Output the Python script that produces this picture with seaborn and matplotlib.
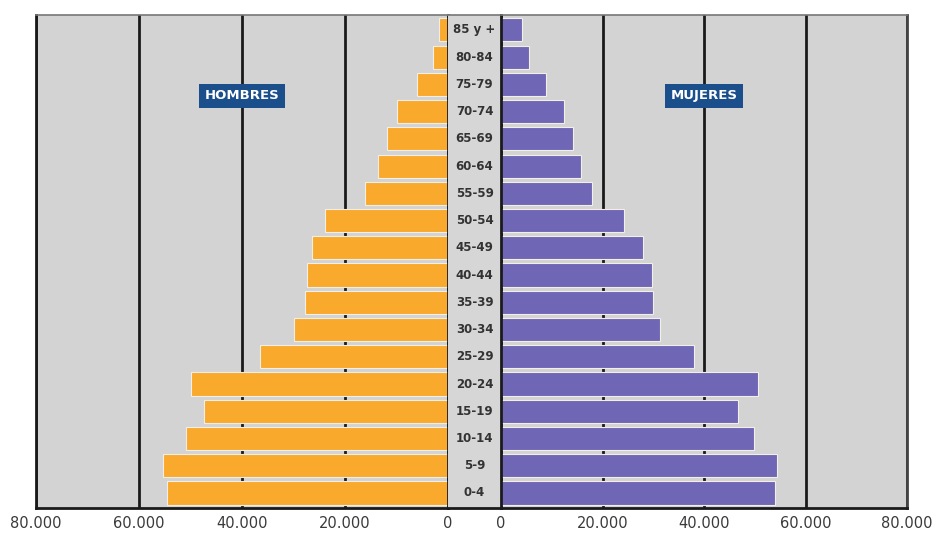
import pandas as pd
import numpy as np
import matplotlib
matplotlib.use("Agg")
import matplotlib.pyplot as plt
import seaborn as sns

# Age groups, top to bottom
age_groups = ["85 y +", "80-84", "75-79", "70-74", "65-69", "60-64", "55-59",
              "50-54", "45-49", "40-44", "35-39", "30-34", "25-29", "20-24",
              "15-19", "10-14", "5-9", "0-4"]

# Population per group
hombres = [1800, 2900, 6000, 9900, 11800, 13600, 16100, 23900, 26400,
           27400, 27700, 29900, 36500, 49900, 47300, 50800, 55300, 54500]
mujeres = [4200, 5500, 8800, 12400, 14100, 15800, 18000, 24300, 27900,
           29800, 30000, 31400, 38000, 50700, 46700, 49900, 54300, 54000]

tick_values = [0, 20000, 40000, 60000, 80000]
tick_labels = ["0", "20.000", "40.000", "60.000", "80.000"]

df = pd.DataFrame({"edad": age_groups, "Hombres": hombres, "Mujeres": mujeres})

sns.set_style("white")
plt.rcParams["font.family"] = ["DejaVu Sans"]

bg = "#d3d3d3"
orange = "#f9a92b"
purple = "#6f66b6"
label_blue = "#1b4f8c"

fig = plt.figure(figsize=(9.4, 5.33), dpi=100)
bottom, height = 0.047, 0.925
ax_m = fig.add_axes([0.0383, bottom, 0.4383, height])
ax_c = fig.add_axes([0.4766, bottom, 0.0564, height])
ax_f = fig.add_axes([0.533, bottom, 0.432, height])

n = len(age_groups)

for ax, col, color in [(ax_m, "Hombres", orange), (ax_f, "Mujeres", purple)]:
    sns.barplot(data=df, x=col, y="edad", order=age_groups, orient="h",
                color=color, width=0.85, edgecolor="#f4efe6", linewidth=0.8,
                saturation=1, ax=ax)
    ax.set_facecolor(bg)
    ax.set_ylim(n - 0.45, -0.55)
    ax.set_xticks(tick_values)
    ax.set_xticklabels(tick_labels, fontsize=10.5, color="#3a3a3a")
    ax.set_yticks([])
    ax.set_xlabel("")
    ax.set_ylabel("")
    ax.set_axisbelow(True)
    ax.grid(axis="x", color="#1a1a1a", linewidth=2)
    ax.tick_params(axis="x", length=4, width=1.5, color="#1a1a1a", pad=2)
    for s in ax.spines.values():
        s.set_color("#1a1a1a")
        s.set_linewidth(2)
    ax.spines["top"].set_color("#777777")
    ax.spines["top"].set_linewidth(1.2)

ax_m.set_xlim(80000, 0)
ax_f.set_xlim(0, 80000)
ax_f.spines["right"].set_color("#444444")

# Centre column with age labels
ax_c.set_facecolor("#d6d6d6")
ax_c.set_ylim(n - 0.45, -0.55)
ax_c.set_xlim(0, 1)
ax_c.set_xticks([])
ax_c.set_yticks([])
for s in ax_c.spines.values():
    s.set_visible(False)
ax_c.spines["top"].set_visible(True)
ax_c.spines["top"].set_color("#777777")
ax_c.spines["top"].set_linewidth(1.2)
ax_c.spines["bottom"].set_visible(True)
ax_c.spines["bottom"].set_color("#1a1a1a")
ax_c.spines["bottom"].set_linewidth(2)
for i, g in enumerate(age_groups):
    ax_c.text(0.5, i, g, ha="center", va="center", fontsize=8.5,
              fontweight="bold", color="#333333",
              family=["DejaVu Sans Condensed", "Liberation Sans Narrow",
                      "DejaVu Sans"])

# Panel labels
for ax, txt in [(ax_m, "HOMBRES"), (ax_f, "MUJERES")]:
    ax.text(0.5, 0.836, txt, transform=ax.transAxes, ha="center", va="center",
            fontsize=9.5, fontweight="bold", color="white",
            bbox=dict(boxstyle="square,pad=0.4", facecolor=label_blue,
                      edgecolor="none"))

fig.savefig("out.png", dpi=100, facecolor="white")
